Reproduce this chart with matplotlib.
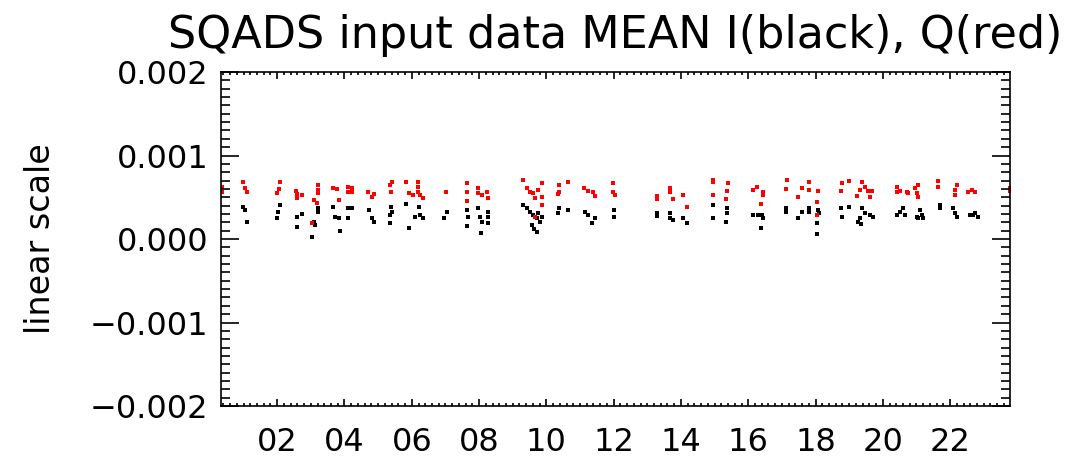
import numpy as np
import matplotlib
matplotlib.use("Agg")
import matplotlib.pyplot as plt
from matplotlib.ticker import MultipleLocator, FuncFormatter

# hora del dia y valores medios (en unidades de 1e-3)
hora_q = [0.36, 0.36, 0.99, 1.05, 1.11, 2.09, 2.06, 2.00, 2.56, 2.59, 2.59, 2.74,
          3.22, 3.22, 3.22, 3.10, 3.19, 3.04, 3.66, 3.78, 3.84, 4.11, 4.11, 4.23, 4.23,
          4.70, 4.82, 4.88, 5.41, 5.36, 5.39, 5.83, 5.92, 6.04, 6.19, 6.19, 6.19, 6.25, 6.34,
          7.02, 7.64, 7.64, 7.64, 7.97, 7.97, 8.09, 8.24, 8.27,
          9.31, 9.43, 9.52, 9.61, 9.67, 9.75, 9.87, 9.87, 9.87, 9.67,
          10.38, 10.38, 10.35, 10.65, 11.12, 11.24, 11.39, 11.45, 11.98, 11.98, 12.04,
          13.29, 13.29, 13.67, 13.67, 13.76, 14.06, 14.18,
          14.95, 14.95, 14.95, 15.40, 15.37, 15.34, 16.14, 16.26, 16.44, 16.44, 16.38,
          17.15, 17.12, 17.60, 17.48, 17.81, 17.81, 18.07, 18.04, 18.04,
          18.79, 18.76, 19.00, 19.39, 19.47, 19.33, 19.56, 19.68, 19.24, 19.62,
          20.42, 20.42, 20.51, 20.72, 20.75, 20.96, 21.05, 21.02, 21.05,
          21.64, 21.64, 22.15, 22.15, 22.21, 22.53, 22.65, 22.74, 23.78, 23.78]
q_media = [0.62, 0.56, 0.683, 0.611, 0.563, 0.683, 0.599, 0.551, 0.575, 0.539, 0.491, 0.527,
           0.647, 0.587, 0.551, 0.467, 0.431, 0.192, 0.611, 0.599, 0.467, 0.623, 0.563, 0.611, 0.563,
           0.563, 0.503, 0.539, 0.683, 0.647, 0.563, 0.683, 0.551, 0.527, 0.683, 0.623, 0.563, 0.527, 0.491,
           0.563, 0.671, 0.563, 0.455, 0.611, 0.551, 0.527, 0.563, 0.491,
           0.707, 0.611, 0.563, 0.551, 0.491, 0.587, 0.671, 0.503, 0.407, 0.263,
           0.647, 0.563, 0.539, 0.683, 0.611, 0.575, 0.563, 0.515, 0.671, 0.563, 0.527,
           0.515, 0.479, 0.611, 0.563, 0.479, 0.527, 0.383,
           0.707, 0.683, 0.527, 0.671, 0.575, 0.479, 0.587, 0.623, 0.563, 0.527, 0.419,
           0.707, 0.599, 0.611, 0.503, 0.683, 0.587, 0.575, 0.443, 0.287,
           0.671, 0.575, 0.695, 0.683, 0.623, 0.587, 0.575, 0.575, 0.515, 0.503,
           0.623, 0.563, 0.575, 0.563, 0.551, 0.611, 0.647, 0.551, 0.503,
           0.695, 0.623, 0.587, 0.527, 0.647, 0.563, 0.587, 0.563, 0.611, 0.575]

hora_i = [0.99, 1.05, 1.11, 2.09, 2.03, 2.00, 2.59, 2.59, 2.74,
          3.22, 3.22, 3.10, 3.13, 3.04, 3.66, 3.72, 3.84, 3.87, 4.11, 4.11, 4.23,
          4.73, 4.82, 4.88, 5.39, 5.41, 5.36, 5.36, 5.83, 5.92, 6.22, 6.10, 6.25, 6.34,
          7.05, 6.96, 7.64, 7.67, 7.64, 7.97, 8.03, 8.09, 8.06, 8.27, 8.27, 8.27,
          9.31, 9.43, 9.52, 9.61, 9.72, 9.75, 9.87, 9.81, 9.58, 9.64, 9.72,
          10.38, 10.35, 10.65, 11.15, 11.24, 11.45, 11.36, 12.01, 12.01,
          13.29, 13.29, 13.67, 13.67, 13.76, 14.06, 14.18,
          14.95, 14.95, 15.37, 15.37, 15.34, 16.14, 16.41, 16.44, 16.38, 16.29,
          17.12, 17.12, 17.48, 17.60, 17.81, 17.81, 18.07, 18.10, 18.04, 18.04,
          18.76, 18.79, 19.00, 19.39, 19.47, 19.62, 19.33, 19.27, 19.36, 19.71,
          20.42, 20.51, 20.60, 20.66, 21.02, 21.11, 21.17, 21.20, 21.05,
          21.70, 21.70, 22.09, 22.15, 22.21, 22.59, 22.68, 22.74, 22.83]
i_media = [0.383, 0.347, 0.204, 0.407, 0.323, 0.251, 0.263, 0.144, 0.299,
           0.371, 0.323, 0.204, 0.168, 0.024, 0.383, 0.263, 0.251, 0.096, 0.371, 0.251, 0.371,
           0.347, 0.251, 0.204, 0.383, 0.323, 0.287, 0.192, 0.419, 0.132, 0.383, 0.263, 0.287, 0.251,
           0.323, 0.251, 0.347, 0.263, 0.156, 0.371, 0.263, 0.204, 0.072, 0.323, 0.263, 0.192,
           0.407, 0.371, 0.323, 0.287, 0.251, 0.311, 0.263, 0.204, 0.168, 0.120, 0.084,
           0.371, 0.311, 0.347, 0.323, 0.287, 0.251, 0.192, 0.347, 0.263,
           0.311, 0.275, 0.311, 0.251, 0.228, 0.251, 0.192,
           0.407, 0.251, 0.371, 0.311, 0.204, 0.287, 0.287, 0.251, 0.132, 0.287,
           0.371, 0.323, 0.251, 0.323, 0.371, 0.323, 0.347, 0.311, 0.192, 0.060,
           0.371, 0.263, 0.383, 0.371, 0.311, 0.287, 0.251, 0.204, 0.180, 0.263,
           0.287, 0.323, 0.371, 0.287, 0.263, 0.347, 0.287, 0.251, 0.251,
           0.407, 0.371, 0.371, 0.311, 0.263, 0.287, 0.287, 0.311, 0.263]

q_media = np.array(q_media) * 1e-3
i_media = np.array(i_media) * 1e-3

fig = plt.figure(figsize=(10.68, 4.71), dpi=100)
ax = fig.add_axes([221 / 1068, 1 - 406 / 471, 789 / 1068, 334 / 471])

ax.scatter(hora_i, i_media, s=5, marker='s', color='black', linewidths=0)
ax.scatter(hora_q, q_media, s=5, marker='s', color='red', linewidths=0)

ax.set_xlim(0.33, 23.78)
ax.set_ylim(-0.002, 0.002)

ax.xaxis.set_major_locator(MultipleLocator(2))
ax.xaxis.set_minor_locator(MultipleLocator(0.2))
ax.yaxis.set_major_locator(MultipleLocator(0.001))
ax.yaxis.set_minor_locator(MultipleLocator(0.0001))
ax.xaxis.set_major_formatter(FuncFormatter(lambda v, p: '%02d' % round(v)))
ax.yaxis.set_major_formatter(FuncFormatter(lambda v, p: ('%.3f' % v).replace('-', '\u2212')))

ax.tick_params(axis='both', which='both', direction='in', top=True, right=True, width=1.2, colors='black')
ax.tick_params(axis='y', which='major', length=13, labelsize=23, pad=9)
ax.tick_params(axis='y', which='minor', length=6.5)
ax.tick_params(axis='x', which='major', length=5, labelsize=23, pad=15)
ax.tick_params(axis='x', which='minor', length=2.5)
for s in ax.spines.values():
    s.set_linewidth(1.2)

ax.set_ylabel('linear scale', fontsize=24, labelpad=24)
ax.set_title('SQADS input data MEAN I(black), Q(red)', fontsize=32, pad=17)

plt.savefig('out.png', dpi=100)
